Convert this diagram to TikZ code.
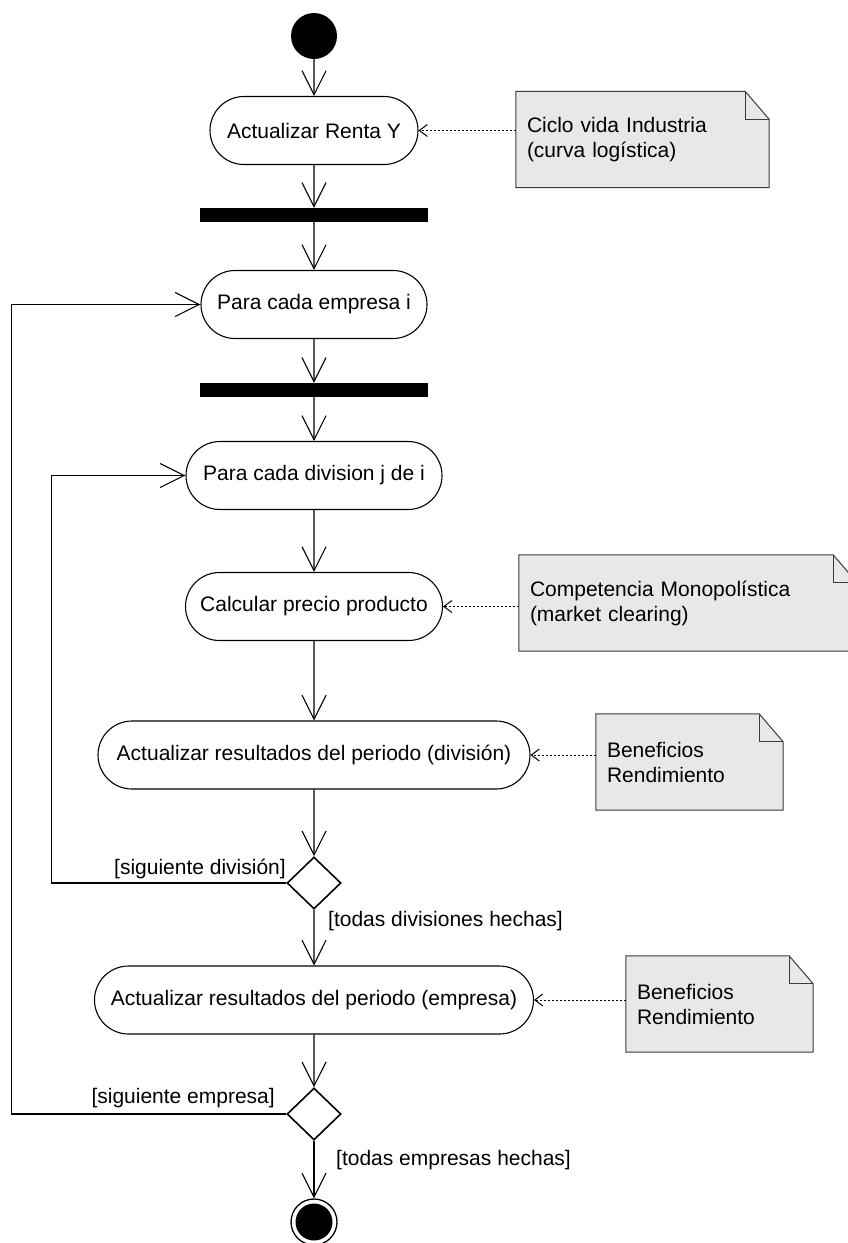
\documentclass[tikz,border=0pt]{standalone}
\usepackage{fontspec}
\setmainfont{Liberation Sans}
\usetikzlibrary{arrows.meta,shapes.misc,shapes.geometric,backgrounds}
\definecolor{notefill}{HTML}{E8E8E8}
\definecolor{noteline}{HTML}{3A3A3A}
\newcommand\foldnote[1]{%
  \draw[noteline, fill=notefill, line width=1pt] (#1.north west) -- ([xshift=-24pt]#1.north east) -- ([yshift=-28pt]#1.north east) -- (#1.south east) -- (#1.south west) -- cycle;
  \draw[noteline, line width=1pt] ([xshift=-24pt]#1.north east) |- ([yshift=-28pt]#1.north east);}
\begin{document}
\begin{tikzpicture}[x=1pt,y=-1pt, font=\fontsize{21}{25}\selectfont,
  act/.style={rounded rectangle, draw, line width=1.1pt, minimum height=68pt, inner sep=0pt},
  bar/.style={fill=black, minimum width=228pt, minimum height=14pt, inner sep=0pt},
  flow/.style={-{Straight Barb[length=24pt,width=24pt]}, line width=1.1pt},
  dec/.style={diamond, draw, line width=1.6pt, minimum width=54pt, minimum height=52pt, inner sep=0pt},
  notebox/.style={minimum height=96pt, inner xsep=11pt, inner ysep=0pt, align=left},
  notelink/.style={dash pattern=on 2pt off 2pt, line width=1pt, -{Straight Barb[length=8pt,width=12pt]}},
  guard/.style={inner sep=0pt}
]
\useasboundingbox (0,0) rectangle (848,1243);

% activity nodes
\node[circle, fill=black, minimum size=46pt, inner sep=0pt] (start) at (314,36) {};
\node[act, minimum width=208pt] (renta) at (314,130.5) {Actualizar Renta Y};
\node[bar] (bar1) at (314,215) {};
\node[act, minimum width=226pt] (empresa) at (314,304.5) {Para cada empresa i};
\node[bar] (bar2) at (314,390) {};
\node[act, minimum width=256pt] (division) at (314,475.5) {Para cada division j de i};
\node[act, minimum width=257pt] (calcular) at (314,606.5) {Calcular precio producto};
\node[act, minimum width=432pt] (resdiv) at (314,755) {Actualizar resultados del periodo (división)};
\node[dec] (d1) at (314,883) {};
\node[act, minimum width=439pt] (resemp) at (314,1000) {Actualizar resultados del periodo (empresa)};
\node[dec] (d2) at (314,1114) {};
\node[circle, draw, line width=1.3pt, minimum size=46pt, inner sep=0pt] (end) at (314,1222) {};
\fill (end.center) circle[radius=18.5pt];

% notes
\node[notebox, minimum width=253pt, text width=231pt] (n1) at (642.5,139.5) {Ciclo vida Industria\\(curva logística)};
\node[notebox, minimum width=338pt, text width=316pt] (n2) at (688,603) {Competencia Monopolística\\(market clearing)};
\node[notebox, minimum width=187pt, text width=165pt] (n3) at (689.5,762) {Beneficios\\Rendimiento};
\node[notebox, minimum width=187pt, text width=165pt] (n4) at (719.5,1004) {Beneficios\\Rendimiento};
\begin{scope}[on background layer]
  \foldnote{n1}\foldnote{n2}\foldnote{n3}\foldnote{n4}
\end{scope}

% guards
\node[guard, anchor=east] (g1) at (286,869) {[siguiente división]};
\node[guard, anchor=west] (g2) at (328,921) {[todas divisiones hechas]};
\node[guard, anchor=east] (g3) at (275,1098) {[siguiente empresa]};
\node[guard, anchor=west] (g4) at (336,1160) {[todas empresas hechas]};

% flows
\draw[flow] (start) -- (renta);
\draw[flow] (renta) -- (bar1);
\draw[flow] (bar1) -- (empresa);
\draw[flow] (empresa) -- (bar2);
\draw[flow] (bar2) -- (division);
\draw[flow] (division) -- (calcular);
\draw[flow] (calcular) -- (resdiv);
\draw[flow] (resdiv) -- (d1.north);
\draw[flow] (d1.south) -- (resemp);
\draw[flow] (resemp) -- (d2.north);
\draw[flow] (d2.south) -- (end);
\draw[flow] (d1.west) -- ++(-235,0) |- (division.west);
\draw[flow] (d2.west) -- ++(-275,0) |- (empresa.west);

% note links
\draw[notelink] (n1.west |- renta.east) -- (renta.east);
\draw[notelink] (n2.west |- calcular.east) -- (calcular.east);
\draw[notelink] (n3.west |- resdiv.east) -- (resdiv.east);
\draw[notelink] (n4.west |- resemp.east) -- (resemp.east);
\end{tikzpicture}
\end{document}
